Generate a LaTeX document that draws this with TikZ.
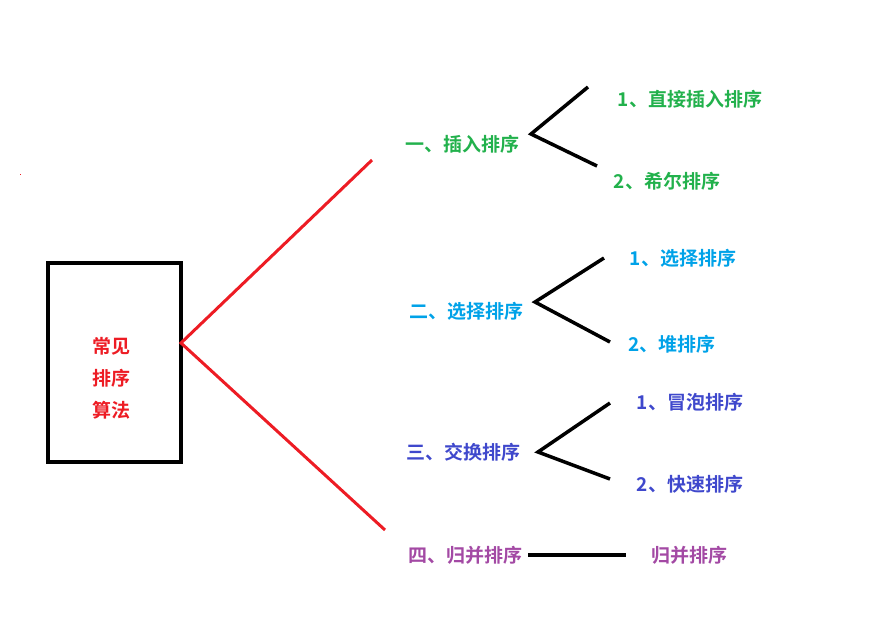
\documentclass[tikz,border=0pt]{standalone}
\usepackage{fontspec}
\newfontfamily\cjk{Noto Sans CJK SC Bold}
\begin{document}
\begin{tikzpicture}[x=1pt,y=-1pt,
  lbl/.style={font=\cjk\fontsize{19}{22}\selectfont,inner sep=0pt},
  red line/.style={draw=myred,line width=3pt},
  blk/.style={draw=black,line width=3.5pt}]
\definecolor{myred}{HTML}{ED1C24}
\definecolor{mygreen}{HTML}{22B14C}
\definecolor{myblue}{HTML}{00A2E8}
\definecolor{myindigo}{HTML}{3F48CC}
\definecolor{mypurple}{HTML}{A349A4}
\useasboundingbox (0,0) rectangle (887,625);
\node[draw=black,line width=3.5pt,minimum width=133pt,minimum height=199pt,inner sep=0pt] (box) at (114.5,362.5) {};
\node[lbl,text=myred,align=center] (t) at (111,378) {常见\\[10pt]排序\\[10pt]算法};
\fill[myred] (19.5,173.5) rectangle (21,175);
\coordinate (r0) at (181,343);
\coordinate (r1) at (372,160);
\coordinate (r2) at (385,530);
\draw[red line] (r1) -- (r0) -- (r2);
% groups
\node[lbl,text=mygreen] (a) at (462,144) {一、插入排序};
\node[lbl,text=mygreen] (a1) at (690,99) {1、直接插入排序};
\node[lbl,text=mygreen] (a2) at (667,181) {2、希尔排序};
\coordinate (ac) at (531,134); \coordinate (ae1) at (588,87); \coordinate (ae2) at (597,166);
\draw[blk] (ae1) -- (ac) -- (ae2);
\node[lbl,text=myblue] (b) at (466,311) {二、选择排序};
\node[lbl,text=myblue] (b1) at (683,258) {1、选择排序};
\node[lbl,text=myblue] (b2) at (672,344) {2、堆排序};
\coordinate (bc) at (535,302); \coordinate (be1) at (604,258); \coordinate (be2) at (610,342);
\draw[blk] (be1) -- (bc) -- (be2);
\node[lbl,text=myindigo] (c) at (463,452) {三、交换排序};
\node[lbl,text=myindigo] (c1) at (690,402) {1、冒泡排序};
\node[lbl,text=myindigo] (c2) at (690,484) {2、快速排序};
\coordinate (cc) at (538,452); \coordinate (ce1) at (610,403); \coordinate (ce2) at (610,479);
\draw[blk] (ce1) -- (cc) -- (ce2);
\node[lbl,text=mypurple] (d) at (465,555) {四、归并排序};
\node[lbl,text=mypurple] (d1) at (689,555) {归并排序};
\draw[blk] (d.east) ++(6,0) coordinate (dc) -- (626,555) coordinate (de);
\end{tikzpicture}
\end{document}
